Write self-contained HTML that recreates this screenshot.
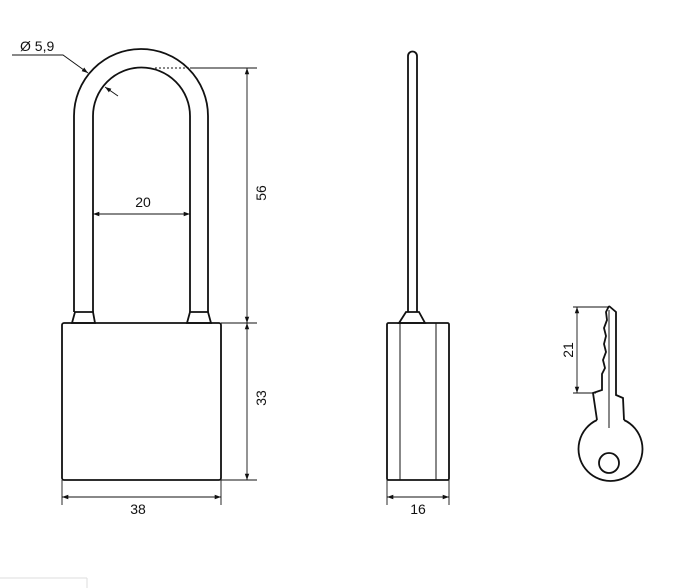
<!DOCTYPE html>
<html><head><meta charset="utf-8"><style>
html,body{margin:0;padding:0;background:#fff;}
svg{display:block;}
text{font-family:"Liberation Sans",Arial,sans-serif;font-size:14px;fill:#111;}
</style></head><body>
<svg width="681" height="588" viewBox="0 0 681 588" xmlns="http://www.w3.org/2000/svg">
<defs>
<marker id="a" viewBox="0 0 10 10" refX="10" refY="5" markerWidth="7" markerHeight="7" orient="auto-start-reverse"><path d="M0,1.5 L10,5 L0,8.5 z" fill="#111"/></marker>
</defs>
<g fill="none" stroke="#111" stroke-width="1.8">
<path d="M74,312 L74,116 A67,67 0 0 1 208,116 L208,312"/>
<path d="M93,312 L93,116 A48.5,48.5 0 0 1 190,116 L190,312"/>
<path d="M75,312 L93,312 L95,323 L72,323 Z"/>
<path d="M190,312 L208,312 L211,323 L187,323 Z"/>
<rect x="62" y="323" width="159" height="157" rx="2"/>
<path d="M408,312 L408,56 A4.5,4.5 0 0 1 417,56 L417,312"/>
<path d="M406,312 L419,312 L425,323 L399,323 Z"/>
<rect x="387" y="323" width="62" height="157" rx="1.5"/>
<path d="M609,306 L616,312 L616,395 L623,398 L624,420"/>
<path d="M609,306 L606,312 L607,320 L604,328 L606,336 L604,344 L606,352 L603,360 L605,368 L602,374 L602,390 L593,393 L597,420"/>
<path d="M597,420 A32,32 0 1 0 624,420"/>
<circle cx="609" cy="463" r="10"/>
</g>
<g fill="none" stroke="#111" stroke-width="1">
<line x1="400" y1="323" x2="400" y2="480"/>
<line x1="436" y1="323" x2="436" y2="480"/>
<line x1="609" y1="310" x2="609" y2="428"/>
</g>
<g stroke="#111" stroke-width="0.9" fill="none">
<line x1="155" y1="68" x2="190" y2="68" stroke-dasharray="2,2"/>
<line x1="190" y1="68" x2="257" y2="68"/>
<line x1="221" y1="323" x2="257" y2="323"/>
<line x1="221" y1="480" x2="257" y2="480"/>
<line x1="247" y1="68" x2="247" y2="323" marker-start="url(#a)" marker-end="url(#a)"/>
<line x1="247" y1="323" x2="247" y2="480" marker-start="url(#a)" marker-end="url(#a)"/>
<line x1="93" y1="214" x2="190" y2="214" marker-start="url(#a)" marker-end="url(#a)"/>
<line x1="62" y1="480" x2="62" y2="505"/>
<line x1="221" y1="480" x2="221" y2="505"/>
<line x1="62" y1="497" x2="221" y2="497" marker-start="url(#a)" marker-end="url(#a)"/>
<line x1="387" y1="480" x2="387" y2="505"/>
<line x1="449" y1="480" x2="449" y2="505"/>
<line x1="387" y1="497" x2="449" y2="497" marker-start="url(#a)" marker-end="url(#a)"/>
<line x1="573" y1="307" x2="609" y2="307"/>
<line x1="573" y1="393" x2="596" y2="393"/>
<line x1="577" y1="307" x2="577" y2="393" marker-start="url(#a)" marker-end="url(#a)"/>
<polyline points="12,55 63,55 88,73" marker-end="url(#a)"/>
<line x1="118" y1="96" x2="105" y2="87" marker-end="url(#a)"/>
</g>
<text x="20" y="51">Ø 5,9</text>
<text x="143" y="207" text-anchor="middle">20</text>
<text x="138" y="514" text-anchor="middle">38</text>
<text x="418" y="514" text-anchor="middle">16</text>
<text transform="translate(266,193) rotate(-90)" text-anchor="middle">56</text>
<text transform="translate(266,398) rotate(-90)" text-anchor="middle">33</text>
<text transform="translate(573,350) rotate(-90)" text-anchor="middle">21</text>
<line x1="0" y1="578" x2="87" y2="578" stroke="#ddd" stroke-width="1"/>
<line x1="87" y1="578" x2="87" y2="588" stroke="#ddd" stroke-width="1"/>
</svg>
</body></html>
